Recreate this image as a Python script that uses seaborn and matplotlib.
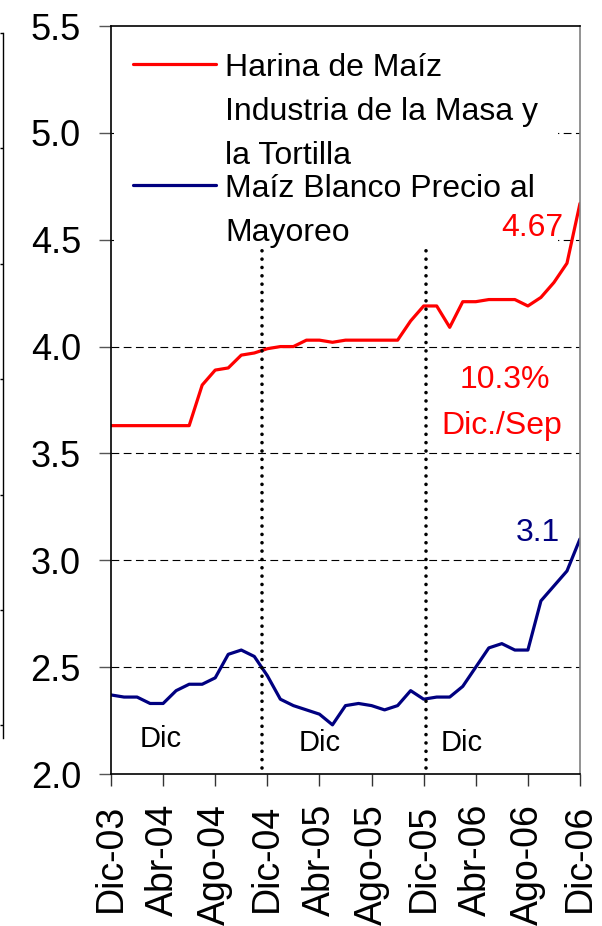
import numpy as np
import pandas as pd
import matplotlib
matplotlib.use("Agg")
import matplotlib.pyplot as plt
import seaborn as sns

# Monthly prices, Dic-03 .. Dic-06 (37 months)
harina = [3.63, 3.63, 3.63, 3.63, 3.63, 3.63, 3.63, 3.82, 3.89, 3.90,
          3.96, 3.97, 3.99, 4.00, 4.00, 4.03, 4.03, 4.02, 4.03, 4.03,
          4.03, 4.03, 4.03, 4.12, 4.19, 4.19, 4.09, 4.21, 4.21, 4.22,
          4.22, 4.22, 4.19, 4.23, 4.30, 4.39, 4.67]
maiz = [2.37, 2.36, 2.36, 2.33, 2.33, 2.39, 2.42, 2.42, 2.45, 2.56,
        2.58, 2.55, 2.46, 2.35, 2.32, 2.30, 2.28, 2.23, 2.32, 2.33,
        2.32, 2.30, 2.32, 2.39, 2.35, 2.36, 2.36, 2.41, 2.50, 2.59,
        2.61, 2.58, 2.58, 2.81, 2.88, 2.95, 3.10]
tick_labels = ["Dic-03", "Abr-04", "Ago-04", "Dic-04", "Abr-05",
               "Ago-05", "Dic-05", "Abr-06", "Ago-06", "Dic-06"]
label_harina = "Harina de Maíz\nIndustria de la Masa y\nla Tortilla"
label_maiz = "Maíz Blanco Precio al\nMayoreo"
december_marks = [11.6, 24.2]

df = pd.DataFrame({"mes": np.arange(len(harina)), "harina": harina, "maiz": maiz})

sns.set_style("white")
plt.rcParams["font.family"] = ["Liberation Sans", "DejaVu Sans"]
plt.rcParams["text.color"] = "black"

fig = plt.figure(figsize=(6.02, 9.26), dpi=100)
ax = fig.add_axes([111 / 602, 152 / 926, 469 / 602, 748 / 926])

RED = "#ff0000"
BLUE = "#000080"

sns.lineplot(data=df, x="mes", y="harina", color=RED, lw=2.3, ax=ax,
             label=label_harina)
sns.lineplot(data=df, x="mes", y="maiz", color=BLUE, lw=2.3, ax=ax,
             label=label_maiz)

# horizontal dashed grid
for yv in np.arange(2.5, 5.5, 0.5):
    ax.axhline(yv, color="black", lw=0.8, ls=(0, (7, 4)), zorder=0.5)

# dotted december separators
for xm in december_marks:
    ax.axvline(xm, ymin=(2.03 - 2.0) / 3.5, ymax=(4.47 - 2.0) / 3.5,
               color="black", lw=2.6, ls=(0, (0.01, 2.3)),
               dash_capstyle="round", zorder=6)

ax.set_xlim(0, len(harina) - 1)
ax.set_ylim(2.0, 5.5)
ax.set_yticks(np.arange(2.0, 5.51, 0.5))
ax.set_yticklabels([f"{v:.1f}" for v in np.arange(2.0, 5.51, 0.5)])
ax.set_xticks(np.arange(0, len(harina), 4))
ax.set_xticklabels(tick_labels, rotation=90)
ax.set_xlabel("")
ax.set_ylabel("")

ax.tick_params(axis="y", direction="out", length=8.6, width=1,
               color="#555555", labelcolor="black", labelsize=26, pad=13, left=True)
ax.tick_params(axis="x", direction="out", length=8.6, width=1,
               color="#333333", labelcolor="black", labelsize=27, pad=13, bottom=True)

for side in ["left", "bottom", "top"]:
    ax.spines[side].set_color("black")
    ax.spines[side].set_linewidth(1.2)
ax.spines["right"].set_color("#808080")
ax.spines["right"].set_linewidth(1.2)

# annotations
ax.text(34.7, 4.555, "4.67", color=RED, fontsize=23, ha="right", va="center", zorder=7)
ax.text(34.5, 3.128, "3.1", color=BLUE, fontsize=23, ha="right", va="center", zorder=7)
ax.text(30.2, 3.843, "10.3%", color=RED, fontsize=23, ha="center", va="center", zorder=7)
ax.text(30.0, 3.628, "Dic./Sep", color=RED, fontsize=23, ha="center", va="center", zorder=7)
for xd, yd in [(3.84, 2.164), (16.0, 2.145), (26.9, 2.145)]:
    ax.text(xd, yd, "Dic", color="black", fontsize=21, ha="center", va="center")

leg = ax.legend(loc="upper left", bbox_to_anchor=(0.0, 0.993), borderaxespad=0.08,
                fontsize=23, frameon=True, facecolor="white", edgecolor="none",
                framealpha=1, fancybox=False, handlelength=2.6, handletextpad=0.3,
                labelspacing=0.08, borderpad=0.6)
leg.set_zorder(5)
for t in leg.get_texts():
    t.set_linespacing(1.62)
    t.set_color("black")
for col in leg._legend_handle_box.get_children():
    for row in col.get_children():
        row.align = "top"

# edge of the neighbouring chart, cropped at the left border
ax2 = fig.add_axes([-0.05, 188 / 926, 0.05 + 3 / 602, 705 / 926])
ax2.set_facecolor("none")
ax2.set_ylim(-0.11, 6.0)
ax2.set_xlim(0, 1)
ax2.set_yticks(range(7))
ax2.set_xticks([])
for side in ["left", "bottom", "top"]:
    ax2.spines[side].set_visible(False)
ax2.spines["right"].set_color("black")
ax2.spines["right"].set_linewidth(1.0)
ax2.yaxis.tick_right()
ax2.tick_params(axis="y", direction="in", length=2.5, width=1,
                color="black", labelright=False, right=True)

fig.savefig("out.png", dpi=100)
